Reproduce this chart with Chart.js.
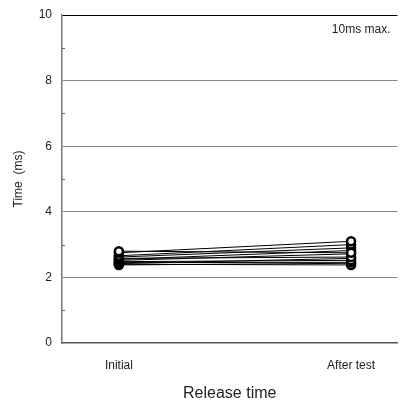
<!DOCTYPE html>
<html>
<head>
<meta charset="utf-8">
<script src="https://cdn.jsdelivr.net/npm/chart.js@4/dist/chart.umd.min.js"></script>
<style>
  html, body { margin: 0; padding: 0; background: #fff; }
  #wrap { width: 404px; height: 403px; }
</style>
</head>
<body>
<div id="wrap"><canvas id="grafico"></canvas></div>
<script>
// categories and values
const categorias = ["Initial", "After test"];
const inicial = [2.80, 2.75, 2.66, 2.62, 2.58, 2.55, 2.52, 2.48, 2.45, 2.42, 2.40, 2.38];
const depois  = [2.75, 3.10, 3.00, 2.90, 2.62, 2.82, 2.72, 2.52, 2.46, 2.58, 2.38, 2.43];
const yTicks = [0, 2, 4, 6, 8, 10];
const yMinor = [1, 3, 5, 7, 9];
const nota = "10ms max.";

const fonte = "'Liberation Sans', Arial, sans-serif";

const datasets = inicial.map((v, i) => ({
    data: [{ x: 0, y: v }, { x: 1, y: depois[i] }],
    borderColor: "#000",
    borderWidth: 1,
    pointRadius: 4,
    pointBackgroundColor: "#fff",
    pointBorderColor: "#000",
    pointBorderWidth: 2.5,
    showLine: true
}));

// minor ticks inside the plot + the note text
const extras = {
    id: "extras",
    afterDraw(chart) {
        const { ctx, chartArea, scales } = chart;
        ctx.save();
        ctx.strokeStyle = "#666";
        ctx.lineWidth = 1;
        yMinor.forEach(v => {
            const y = Math.round(scales.y.getPixelForValue(v)) + 0.5;
            ctx.beginPath();
            ctx.moveTo(chartArea.left, y);
            ctx.lineTo(chartArea.left + 3, y);
            ctx.stroke();
        });
        ctx.fillStyle = "#222";
        ctx.font = "12px " + fonte;
        ctx.textAlign = "right";
        ctx.textBaseline = "middle";
        ctx.fillText(nota, chartArea.right - 7, chartArea.top + 15);
        ctx.restore();
    }
};

new Chart(document.getElementById("grafico"), {
    type: "scatter",
    data: { datasets },
    plugins: [extras],
    options: {
        responsive: true,
        maintainAspectRatio: false,
        animation: false,
        layout: { padding: { top: 15, right: 4, left: 0, bottom: 0 } },
        plugins: { legend: { display: false }, tooltip: { enabled: false } },
        scales: {
            x: {
                type: "linear",
                min: -0.245,
                max: 1.2,
                afterBuildTicks: s => { s.ticks = categorias.map((c, i) => ({ value: i })); },
                afterFit: s => { s.height = 60; s.paddingLeft = 0; s.paddingRight = 0; },
                ticks: {
                    callback: v => categorias[v],
                    color: "#222",
                    font: { family: fonte, size: 12 },
                    padding: 15
                },
                grid: { display: false, drawTicks: false },
                border: { color: "#555", width: 1.5 },
                title: {
                    display: true,
                    text: "Release time",
                    color: "#222",
                    font: { family: fonte, size: 16 },
                    padding: { top: 0, bottom: 0 }
                }
            },
            y: {
                min: 0,
                max: 10,
                afterBuildTicks: s => { s.ticks = yTicks.map(v => ({ value: v })); },
                afterFit: s => { s.width = 62; s.paddingTop = 0; s.paddingBottom = 0; },
                ticks: {
                    color: "#222",
                    font: { family: fonte, size: 12 },
                    padding: 10
                },
                grid: {
                    drawTicks: false,
                    color: c => c.tick.value === 10 ? "#000" : (c.tick.value === 0 ? "rgba(0,0,0,0)" : "#888"),
                    lineWidth: 1
                },
                border: { color: "#777", width: 1.5 },
                title: {
                    display: true,
                    text: "Time  (ms)",
                    color: "#222",
                    font: { family: fonte, size: 12 },
                    padding: { top: 11, bottom: 4 }
                }
            }
        }
    }
});
</script>
</body>
</html>
